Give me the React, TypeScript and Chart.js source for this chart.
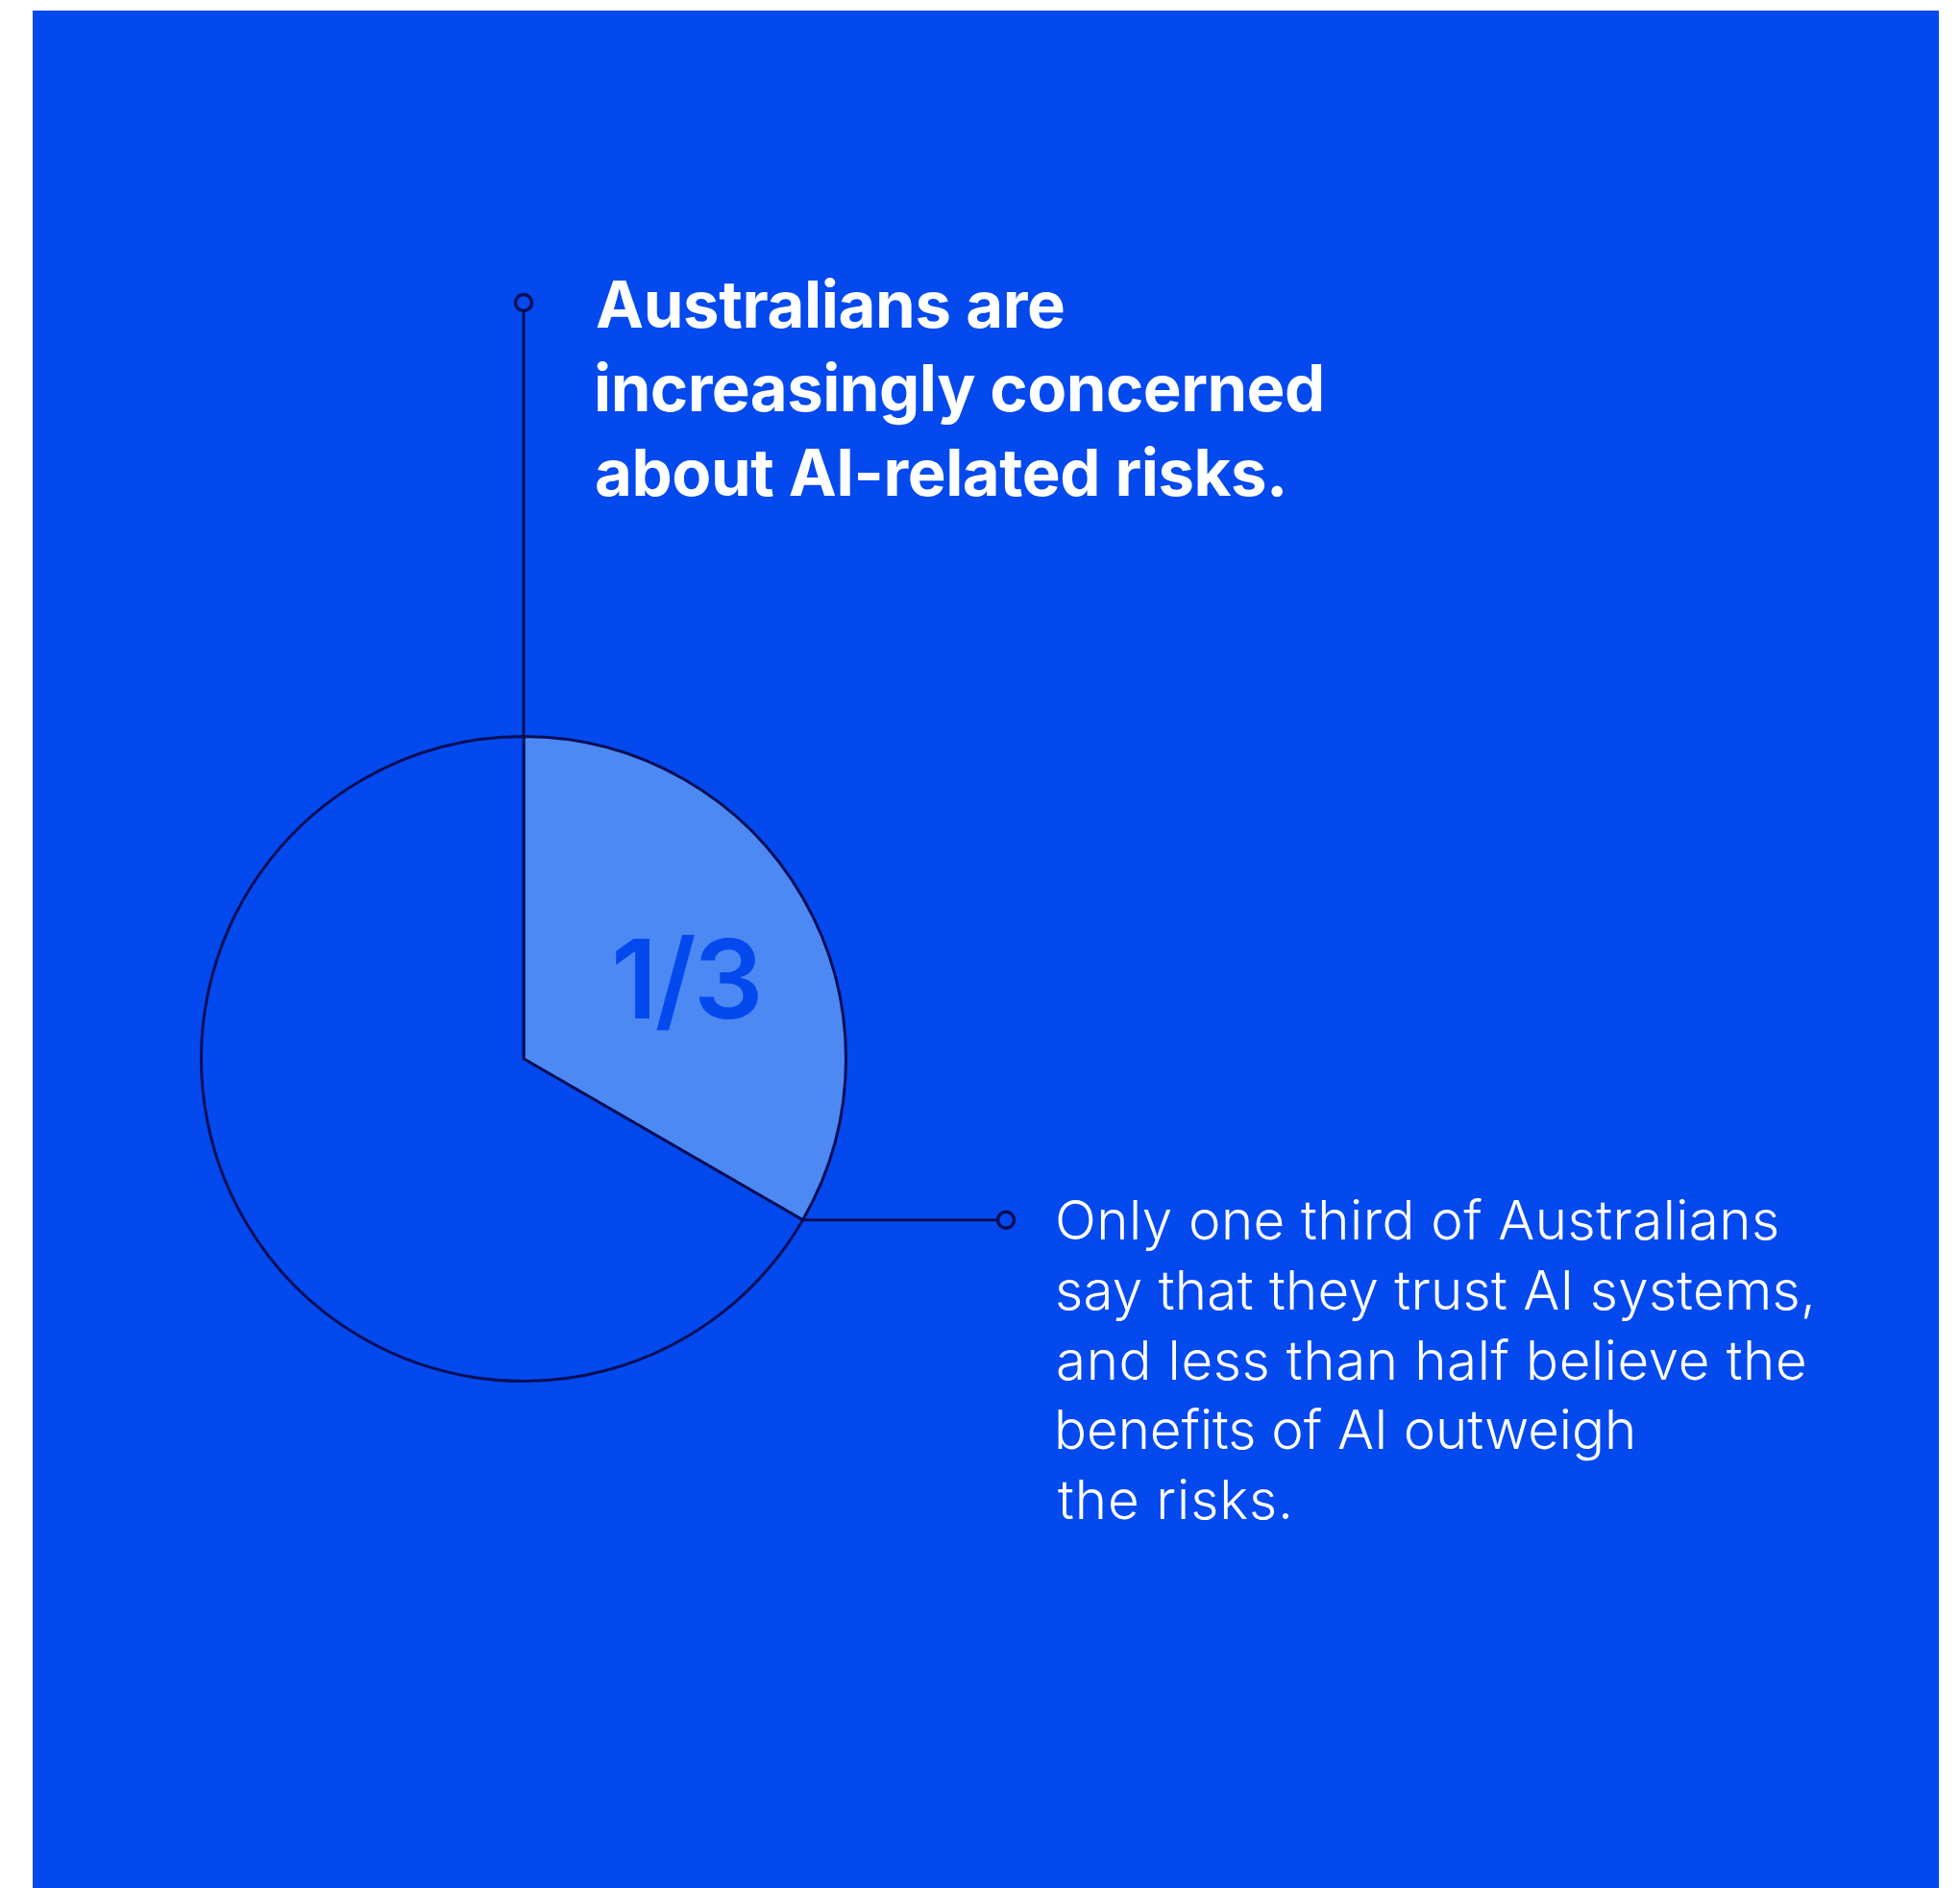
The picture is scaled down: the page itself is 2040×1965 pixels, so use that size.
import React, { useEffect, useRef } from "react";
import { Chart, registerables } from "chart.js";

Chart.register(...registerables);

// ---- data ----
const categories = ["Trust AI systems", "Do not trust AI systems"];
const shares = [1, 2]; // one third vs. two thirds
const sliceLabels = ["1/3", ""];
const titleLines = ["Australians are", "increasingly concerned", "about AI-related risks."];
const bodyLines = [
  "Only one third of Australians",
  "say that they trust AI systems,",
  "and less than half believe the",
  "benefits of AI outweigh",
  "the risks.",
];

// ---- styles ----
const BG = "#0349ee";
const SLICE = "#4c89f3";
const NAVY = "#070e56";
const PANEL = { left: 34, top: 11, width: 1984, height: 1954 };

type LineSpec = { text: string; left: number; right: number; baseline: number };

function measure(text: string, font: string) {
  const ctx = document.createElement("canvas").getContext("2d")!;
  ctx.font = font;
  return ctx.measureText(text);
}

function FittedLine({ spec, weight, size, lineHeight, color }: { spec: LineSpec; weight: number; size: number; lineHeight: number; color: string }) {
  const font = `${weight} ${size}px Inter`;
  const m = measure(spec.text, font);
  const inkL = m.actualBoundingBoxLeft;
  const inkW = m.actualBoundingBoxLeft + m.actualBoundingBoxRight;
  const n = Math.max(spec.text.length - 1, 1);
  const spacing = (spec.right - spec.left - inkW) / n;
  const asc = m.fontBoundingBoxAscent ?? size * 0.96875;
  const desc = m.fontBoundingBoxDescent ?? size * 0.2421875;
  const off = (lineHeight - (asc + desc)) / 2 + asc;
  return (
    <div
      style={{
        position: "absolute",
        left: spec.left + inkL,
        top: spec.baseline - off,
        font,
        lineHeight: `${lineHeight}px`,
        letterSpacing: `${spacing}px`,
        whiteSpace: "nowrap",
        color,
      }}
    >
      {spec.text}
    </div>
  );
}

const connectorPlugin = {
  id: "connectors",
  afterDatasetsDraw(chart: any, _args: any, opts: any) {
    const arc = chart.getDatasetMeta(0).data[0];
    if (!arc) return;
    const { x, y, outerRadius, startAngle, endAngle } = arc.getProps(["x", "y", "outerRadius", "startAngle", "endAngle"], true);
    const ctx = chart.ctx;
    ctx.save();
    ctx.strokeStyle = NAVY;
    ctx.lineWidth = 3;
    const r = 8.5;
    // vertical connector from start of slice up to the title marker
    const sx = x + outerRadius * Math.cos(startAngle);
    const sy = y + outerRadius * Math.sin(startAngle);
    ctx.beginPath();
    ctx.moveTo(sx, sy);
    ctx.lineTo(sx, opts.topY + r);
    ctx.stroke();
    ctx.lineWidth = 3.4;
    ctx.beginPath();
    ctx.arc(sx, opts.topY, r, 0, Math.PI * 2);
    ctx.stroke();
    // horizontal connector from the end of slice to the body marker
    const ex = x + outerRadius * Math.cos(endAngle);
    const ey = y + outerRadius * Math.sin(endAngle);
    ctx.lineWidth = 3;
    ctx.beginPath();
    ctx.moveTo(ex, ey);
    ctx.lineTo(opts.rightX - r, ey);
    ctx.stroke();
    ctx.lineWidth = 3.4;
    ctx.beginPath();
    ctx.arc(opts.rightX, ey, r, 0, Math.PI * 2);
    ctx.stroke();
    ctx.restore();
  },
};

function PieChart() {
  const ref = useRef<HTMLCanvasElement>(null);
  useEffect(() => {
    const cx = 545 - PANEL.left;
    const cy = 1102 - PANEL.top;
    const bw = 3;
    const size = 2 * 335.5 + bw;
    const padL = cx - size / 2;
    const padT = cy - size / 2;
    const chart = new Chart(ref.current!, {
      type: "pie",
      data: {
        labels: categories,
        datasets: [
          {
            data: shares,
            backgroundColor: [SLICE, BG],
            borderColor: NAVY,
            borderWidth: bw,
            borderJoinStyle: "miter",
            hoverOffset: 0,
          } as any,
        ],
      },
      options: {
        animation: false,
        responsive: false,
        events: [],
        rotation: 0,
        layout: {
          padding: {
            left: padL,
            top: padT,
            right: PANEL.width - padL - size,
            bottom: PANEL.height - padT - size,
          },
        },
        plugins: {
          legend: { display: false },
          tooltip: { enabled: false },
          connectors: { topY: 315 - PANEL.top, rightX: 1047 - PANEL.left },
        } as any,
      },
      plugins: [connectorPlugin],
    });
    return () => chart.destroy();
  }, []);
  return (
    <canvas
      ref={ref}
      width={PANEL.width}
      height={PANEL.height}
      style={{ position: "absolute", left: PANEL.left, top: PANEL.top, width: PANEL.width, height: PANEL.height }}
    />
  );
}

export default function App() {
  const titleRights = [1107, 1376, 1335];
  const bodyRights = [1850, 1885, 1878, 1699, 1341];
  const titleSpecs: LineSpec[] = titleLines.map((t, i) => ({ text: t, left: 621, right: titleRights[i], baseline: 341 + i * 87.5 }));
  const bodySpecs: LineSpec[] = bodyLines.map((t, i) => ({ text: t, left: 1101, right: bodyRights[i], baseline: 1291 + i * 72.75 }));
  const labelSpec: LineSpec = { text: sliceLabels[0], left: 641, right: 789, baseline: 1060 };
  return (
    <div style={{ position: "absolute", left: 0, top: 0, width: 2040, height: 1965, overflow: "hidden", background: "#ffffff" }}>
      <div style={{ position: "absolute", left: PANEL.left, top: PANEL.top, width: PANEL.width, height: PANEL.height, background: BG }} />
      <PieChart />
      {titleSpecs.map((s, i) => (
        <FittedLine key={"t" + i} spec={s} weight={700} size={67} lineHeight={87.5} color="#ffffff" />
      ))}
      {bodySpecs.map((s, i) => (
        <FittedLine key={"b" + i} spec={s} weight={300} size={56.5} lineHeight={72.75} color="#ffffff" />
      ))}
      <FittedLine spec={labelSpec} weight={600} size={114} lineHeight={114} color={BG} />
    </div>
  );
}
